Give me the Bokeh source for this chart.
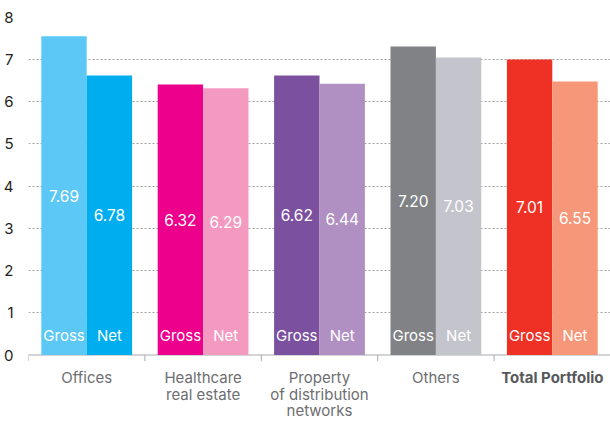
from bokeh.plotting import figure
from bokeh.models import ColumnDataSource, FixedTicker, Range1d
from bokeh.core.properties import value
from bokeh.embed import file_html
from bokeh.resources import INLINE

categories = [["Offices"], ["Healthcare", "real estate"], ["Property", "of distribution", "networks"],
              ["Others"], ["Total Portfolio"]]
gross_heights = [7.55, 6.41, 6.62, 7.31, 7.00]
net_heights = [6.62, 6.32, 6.43, 7.05, 6.48]
gross_labels = ["7.69", "6.32", "6.62", "7.20", "7.01"]
net_labels = ["6.78", "6.29", "6.44", "7.03", "6.55"]
gross_colors = ["#5BC8F5", "#EC008C", "#7B519F", "#808285", "#EE3124"]
net_colors = ["#00AEEF", "#F49AC1", "#B08FC3", "#C4C4CC", "#F7977A"]
y_ticks = [0, 1, 2, 3, 4, 5, 6, 7, 8]
grid_ticks = [1, 2, 3, 4, 5, 6, 7]

FONT = "Inter"
PX = 1 / 42.2  # data units per pixel on y
idx = list(range(len(categories)))

gsrc = ColumnDataSource(dict(
    x=[i + 0.305 for i in idx], top=gross_heights, mid=[h / 2 for h in gross_heights],
    lab=gross_labels, color=gross_colors, name=["Gross"] * len(idx)))
nsrc = ColumnDataSource(dict(
    x=[i + 0.695 for i in idx], top=net_heights, mid=[h / 2 for h in net_heights],
    lab=net_labels, color=net_colors, name=["Net"] * len(idx)))

p = figure(width=610, height=423, output_backend="svg", toolbar_location=None,
           x_range=Range1d(0, 5), y_range=Range1d(-1.623, 8.40),
           min_border_left=28, min_border_right=0, min_border_top=0, min_border_bottom=0)
p.outline_line_color = None
p.background_fill_color = "white"
p.border_fill_color = "white"
p.xaxis.visible = False

# grid
p.xgrid.grid_line_color = None
p.ygrid.ticker = FixedTicker(ticks=grid_ticks)
p.ygrid.grid_line_color = "#a0a0a3"
p.ygrid.grid_line_dash = "2 2"
p.ygrid.grid_line_width = 1

# y axis
p.yaxis.ticker = FixedTicker(ticks=y_ticks)
p.yaxis.axis_line_color = None
p.yaxis.major_tick_line_color = None
p.yaxis.minor_tick_line_color = None
p.yaxis.major_label_standoff = 9
p.yaxis.major_label_text_font = FONT
p.yaxis.major_label_text_font_size = "15px"
p.yaxis.major_label_text_color = "#231f20"
p.yaxis.major_label_text_baseline = "alphabetic"

# category baseline and boundary ticks
bounds = list(range(len(categories) + 1))
p.segment(x0=[0], y0=[0], x1=[len(categories)], y1=[0], line_color="#a7a9ac", line_width=1)
p.segment(x0=bounds, y0=[0] * len(bounds), x1=bounds, y1=[-6 * PX] * len(bounds),
          line_color="#a7a9ac", line_width=1)

# bars
p.vbar(x="x", top="top", bottom=0, width=0.39, color="color", line_color=None, source=gsrc)
p.vbar(x="x", top="top", bottom=0, width=0.39, color="color", line_color=None, source=nsrc)

for src in (gsrc, nsrc):
    p.text(x="x", y="mid", text="lab", source=src, text_color="white",
           text_font=value(FONT), text_font_size="15.5px",
           text_align="center", text_baseline="middle")
    p.text(x="x", y=0.46, text="name", source=src, text_color="white",
           text_font=value(FONT), text_font_size="15px",
           text_align="center", text_baseline="middle")

# category labels (one row per text line)
lx, ly, lt = [], [], []
for i, lines in enumerate(categories[:-1]):
    for k, line in enumerate(lines):
        lx.append(i + 0.5)
        ly.append(-22.5 * PX - k * 16.5 * PX)
        lt.append(line)
p.text(x=lx, y=ly, text=lt, text_color="#6d6e71", text_font=value(FONT),
       text_font_size="15px", text_align="center", text_baseline="middle")
p.text(x=[idx[-1] + 0.5], y=[-22.5 * PX], text=categories[-1], text_color="#58595b",
       text_font=value(FONT), text_font_size="15px", text_font_style="bold",
       text_align="center", text_baseline="middle")

open("out.html", "w").write(file_html(p, INLINE))
